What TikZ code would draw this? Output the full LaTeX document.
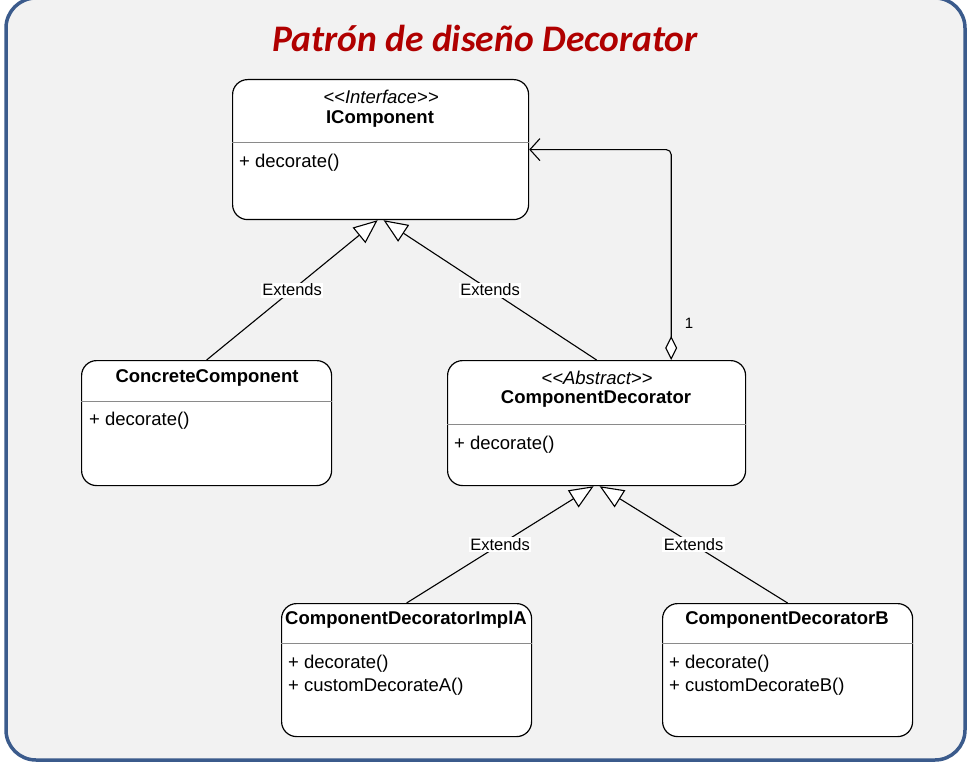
\documentclass[tikz,border=0pt]{standalone}
\usepackage{fontspec}
\setmainfont{Liberation Sans}
\newfontfamily\titlefont{Carlito}
\usetikzlibrary{arrows.meta,calc}
\definecolor{framebl}{HTML}{3B5B8C}
\definecolor{bggray}{HTML}{F2F2F2}
\definecolor{titlered}{HTML}{B00000}
\definecolor{divgray}{HTML}{8A8A8A}
\tikzset{
  umlbox/.style={draw=black, line width=1.2pt, fill=white, rounded corners=15pt, anchor=north west, inner sep=0pt},
  stereo/.style={font=\fontsize{18.5}{20}\selectfont\itshape, inner sep=0pt},
  cname/.style={font=\fontsize{18.5}{21}\selectfont\bfseries, inner sep=0pt},
  member/.style={font=\fontsize{18.5}{21}\selectfont, inner sep=0pt, anchor=west},
  divider/.style={draw=divgray, line width=1pt},
  ext/.style={draw=black, line width=1.1pt, -{Triangle[length=24pt,width=20pt,fill=white,line width=1.1pt]}},
  extlabel/.style={fill=white, inner sep=1.5pt, font=\fontsize{16.5}{18}\selectfont, pos=0.5},
  agg/.style={draw=black, line width=1.1pt, rounded corners=5pt, {Diamond[length=24pt,width=12pt,fill=white,line width=1.1pt]}-{Straight Barb[length=10pt,width=22pt,line width=1.1pt]}}
}
\begin{document}
\begin{tikzpicture}[x=1pt,y=-1pt]
\useasboundingbox (0,0) rectangle (975,770);
\fill[white] (0,0) rectangle (975,770);
\draw[framebl, line width=3.5pt, fill=bggray, rounded corners=30pt] (6,-2) rectangle (965,760);
\node[font=\titlefont\fontsize{37.5}{42}\selectfont\bfseries\itshape, text=titlered] (title) at (485,38) {Patrón de diseño Decorator};

% IComponent
\node[umlbox, minimum width=296pt, minimum height=140pt] (ic) at (232,79) {};
\node[stereo] (icst) at (381,97) {{<}{<}Interface{>}{>}};
\node[cname] (icnm) at (380,119) {IComponent};
\draw[divider] (ic.west |- 0,143) -- (ic.east |- 0,143);
\node[member] (icm1) at (239,163) {+ decorate()};

% ConcreteComponent
\node[umlbox, minimum width=250pt, minimum height=125pt] (cc) at (81,360) {};
\node[cname] (ccnm) at (207,378) {ConcreteComponent};
\draw[divider] (cc.west |- 0,401) -- (cc.east |- 0,401);
\node[member] (ccm1) at (89,421) {+ decorate()};

% ComponentDecorator
\node[umlbox, minimum width=298pt, minimum height=125pt] (cd) at (447,360) {};
\node[stereo] (cdst) at (597,378) {{<}{<}Abstract{>}{>}};
\node[cname] (cdnm) at (596,399) {ComponentDecorator};
\draw[divider] (cd.west |- 0,424) -- (cd.east |- 0,424);
\node[member] (cdm1) at (454,445) {+ decorate()};

% ComponentDecoratorImplA
\node[umlbox, minimum width=250pt, minimum height=133pt] (ia) at (281,603) {};
\node[cname] (ianm) at (406,620) {ComponentDecoratorImplA};
\draw[divider] (ia.west |- 0,643) -- (ia.east |- 0,643);
\node[member] (iam1) at (288,664) {+ decorate()};
\node[member] (iam2) at (288,687) {+ customDecorateA()};

% ComponentDecoratorB
\node[umlbox, minimum width=250pt, minimum height=133pt] (db) at (662,603) {};
\node[cname] (dbnm) at (787,620) {ComponentDecoratorB};
\draw[divider] (db.west |- 0,643) -- (db.east |- 0,643);
\node[member] (dbm1) at (669,664) {+ decorate()};
\node[member] (dbm2) at (669,687) {+ customDecorateB()};

% Generalizations
\draw[ext] (cc.north) -- node[extlabel] {Extends} ($(ic.south)+(-3,0)$);
\draw[ext] (cd.north) -- node[extlabel] {Extends} ($(ic.south)+(3,0)$);
\draw[ext] (ia.north) -- node[extlabel] {Extends} ($(cd.south)+(-3,0)$);
\draw[ext] (db.north) -- node[extlabel] {Extends} ($(cd.south)+(3,0)$);

% Aggregation
\coordinate (aggstart) at ($(cd.north east)+(-75,0)$);
\draw[agg] (aggstart) |- (ic.east);
\node[font=\fontsize{15}{17}\selectfont, inner sep=0pt] (mult) at (689,323) {1};
\end{tikzpicture}
\end{document}
